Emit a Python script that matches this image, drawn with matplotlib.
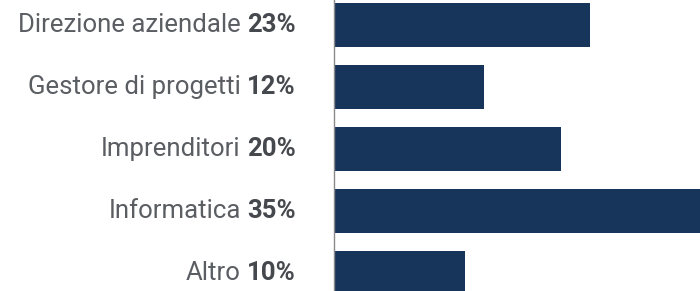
import matplotlib
matplotlib.use("Agg")
import matplotlib.pyplot as plt
from matplotlib.transforms import blended_transform_factory

categories = ["Direzione aziendale", "Gestore di progetti", "Imprenditori", "Informatica", "Altro"]
values = [23, 12, 20, 35, 10]
pct_labels = ["23%", "12%", "20%", "35%", "10%"]

BAR_COLOR = "#17355a"
TEXT_COLOR = "#5a5d62"
BOLD_COLOR = "#45484d"

W, H = 700, 291
fig = plt.figure(figsize=(W / 100, H / 100), dpi=100)
ax = fig.add_axes([335 / W, 0, 1 - 335 / W, 1])

base = -3.5
ys = list(range(len(categories)))
ax.barh(ys, [v - base for v in values], left=base, height=0.71, color=BAR_COLOR)
ax.set_xlim(base, 34.5)
ax.set_ylim(4 + 18 / 62, -25 / 62)
ax.axis("off")

# vertical axis line
fig.add_artist(plt.Line2D([333.5 / W, 333.5 / W], [0, 1], transform=fig.transFigure,
                          color="#8a8a8a", lw=1))

fig.canvas.draw()
renderer = fig.canvas.get_renderer()
trans = blended_transform_factory(fig.transFigure, ax.transData)
fs = 18.5
gap = 0.25 * fs * 100 / 72
for y, name, pct in zip(ys, categories, pct_labels):
    t = ax.text(296 / W, y, pct, transform=trans, ha="right", va="center",
                fontsize=fs, fontfamily="Roboto", fontweight="bold", color=BOLD_COLOR)
    bb = t.get_window_extent(renderer)
    x_left = bb.x0 - gap
    ax.text(x_left / W, y, name, transform=trans, ha="right", va="center",
            fontsize=fs, fontfamily="Roboto", color=TEXT_COLOR)

fig.savefig("out.png", dpi=100)
